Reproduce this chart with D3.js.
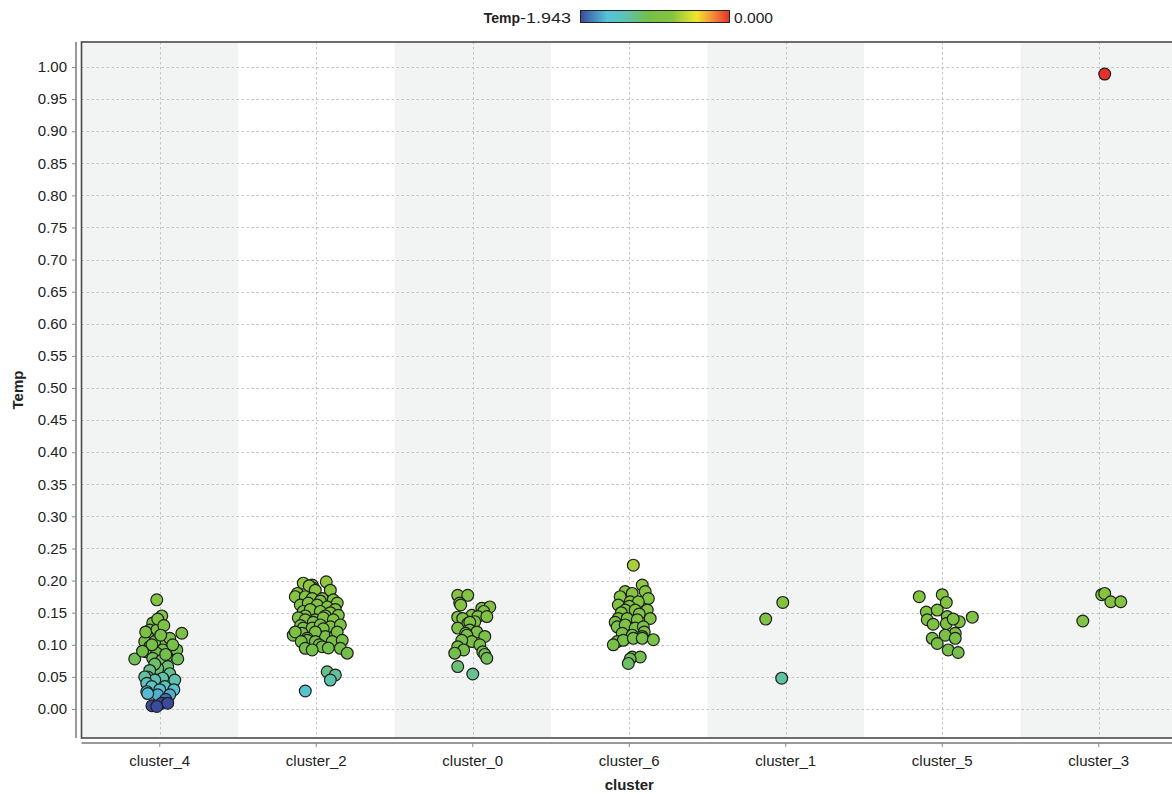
<!DOCTYPE html>
<html><head><meta charset="utf-8">
<script src="https://cdn.jsdelivr.net/npm/d3@7"></script>
<style>
html,body{margin:0;padding:0;background:#fff;overflow:hidden}
text{font-family:"Liberation Sans",Arial,sans-serif;fill:#222}
</style></head>
<body><svg id="c" width="1172" height="794"></svg>
<script>
// ---- data ----
const categories = ["cluster_4","cluster_2","cluster_0","cluster_6","cluster_1","cluster_5","cluster_3"];
const yTicks = [0,0.05,0.1,0.15,0.2,0.25,0.3,0.35,0.4,0.45,0.5,0.55,0.6,0.65,0.7,0.75,0.8,0.85,0.9,0.95,1.0];
const colorMin = -1.943, colorMax = 0.0;   // legend range (log10 of Temp)
// points per cluster: [jitter (% of band), Temp]
const cluster_4 = [[-1.9,.170],[1.3,.145],[-4.5,.134],[14.1,.118],[-6.4,.123],[-1.9,.123],[-7.7,.113],[3.2,.107],[-3.2,.105],[-9.6,.105],
 [-6.4,.097],[7.7,.0945],[1.9,.092],[-8.3,.089],[-1.9,.087],[10.9,.092],[4.5,.081],[-4.5,.079],[-16,.078],[11.5,.078],[1.3,.076],
 [-1.3,.14],[2.6,.13],[-9,.12],[6.4,.11],[-5,.10],[0.6,.115],[8.3,.10],[-11,.09],[3.8,.085],
 [5.1,.066],[-1.3,.063],[-3.2,.07],[6.4,.055],[-6.4,.06],[-7.7,.050],[9.6,.045],[1.9,.048],[-3.2,.045],[-9.6,.05],[-8.3,.040],
 [-5.1,.035],[3.2,.035],[0,.03],[9,.03],[-8.3,.027],[6.4,.022],[-1.3,.022],[-7.7,.024],[3.8,.015],[1.3,.009],[5.1,.009],[-5,.005],[-1.9,.004]];
const cluster_2 = [[-8.3,.196],[-2.6,.193],[6.4,.198],[-1.9,.188],[-4.5,.192],[-12,.18],[-0.6,.185],[9,.185],[-13.4,.175],[-7,.175],
 [-2.6,.172],[3.8,.172],[10.9,.17],[2.6,.168],[-10.2,.162],[-5.1,.165],[13.4,.165],[0.6,.162],[7,.159],[-8.3,.152],[-3.8,.150],
 [-3.8,.155],[12.2,.155],[2.6,.152],[9,.150],[14.1,.146],[-7,.145],[5.8,.145],[-11.5,.142],[-7,.139],[-0.6,.139],[4.5,.142],[10.9,.139],
 [-1.9,.135],[-10,.13],[-8.3,.126],[-2.6,.126],[2.6,.131],[9,.128],[15.4,.131],[4.5,.125],[-14.7,.115],[-9,.118],[0.6,.115],[5.8,.113],
 [12.2,.115],[-0.6,.12],[13.4,.12],[-13.4,.12],[-5.8,.11],[-5.8,.107],[-0.6,.105],[10.2,.105],[16.6,.107],[-9.6,.105],[1.9,.10],
 [-7,.0945],[3.8,.097],[-2.6,.092],[15.4,.0945],[7.7,.095],[19.8,.087],[7,.058],[12.2,.053],[9,.045],[-7,.028]];
const cluster_0 = [[-9.6,.177],[-3.2,.177],[-8.3,.165],[-7.7,.162],[5.8,.157],[10.9,.159],[7,.152],[-0.6,.146],[-9.6,.143],[-6.4,.141],
 [3.2,.144],[9,.144],[-3.2,.133],[1.3,.136],[-1.9,.135],[-9.6,.126],[-1.9,.123],[2.6,.120],[-4.5,.118],[-3.8,.115],[7.7,.113],
 [-0.6,.105],[-7,.107],[4.5,.100],[-9.6,.097],[-5.8,.092],[6.4,.089],[-11.5,.087],[7.7,.085],[9,.079],[-9.6,.066],[0,.0545]];
const cluster_6 = [[2.6,.224],[8.3,.193],[-2.6,.183],[-5.8,.175],[1.9,.180],[10.2,.183],[12.2,.172],[0.6,.167],[5.8,.167],[-7,.162],
 [0,.16],[-2.6,.154],[3.8,.154],[11.5,.154],[-5.1,.15],[6.4,.148],[-7,.141],[-1.3,.141],[5.1,.139],[13.4,.141],[-9,.135],[-7.7,.128],
 [-2.6,.131],[3.8,.126],[9,.128],[9.6,.12],[-4.5,.118],[1.9,.115],[8.3,.113],[-7.7,.105],[-3.8,.107],[2.6,.110],[8.3,.110],[15.4,.108],
 [-10.2,.100],[1.9,.081],[7,.081],[0.6,.078],[-0.6,.071]];
const cluster_1 = [[-1.9,.166],[-12.8,.140],[-2.6,.048]];
const cluster_5 = [[-14.7,.175],[0,.178],[2.6,.166],[-10.2,.151],[-3.2,.154],[3.2,.144],[19.2,.143],[-9.6,.139],[-5.8,.132],[2.6,.133],
 [10.9,.136],[7,.140],[8.3,.118],[-6.4,.110],[1.9,.115],[8.3,.110],[-3.2,.102],[3.8,.092],[10.2,.088]];
const cluster_3 = [[1.9,.178],[3.8,.180],[7.7,.167],[14.1,.167],[-10.2,.137],[3.8,.989]];
const seriesByCluster = {cluster_4, cluster_2, cluster_0, cluster_6, cluster_1, cluster_5, cluster_3};

// ---- layout ----
const svg = d3.select("#c");
const L = 81.5, R = 1177, T = 42, B = 738;
const x = d3.scaleBand().domain(categories).range([L, R]).padding(0);
const y = d3.scaleLinear().domain([-0.0452, 1.0389]).range([B, T]);

const stops = [0, 0.18, 0.3, 0.45, 0.62, 0.69, 0.78, 0.88, 1];
const stopColors = ["#3a4b9f","#55c4d8","#5dc2b4","#74bf4a","#86c440","#b9d536","#f1e52a","#f5923a","#e6302b"];
const cmap = d3.scaleLinear().domain(stops).range(stopColors).clamp(true);
const norm = d3.scaleLinear().domain([colorMin, colorMax]).range([0,1]).clamp(true);
const colorOf = v => cmap(norm(Math.log10(Math.max(v, 1e-6))));
const fmt = v => d3.format(".3f")(v).replace("\u2212", "-");

// bands
svg.append("g").selectAll("rect").data(categories).join("rect")
  .attr("x", d => x(d)).attr("y", T).attr("width", x.bandwidth()).attr("height", B - T)
  .attr("fill", (d,i) => i % 2 === 0 ? "#f2f3f3" : "#ffffff");

// grid
const grid = svg.append("g").attr("stroke", "#c4c4c4").attr("stroke-width", 1).attr("stroke-dasharray", "2.5,2.5");
grid.selectAll("line.h").data(yTicks).join("line")
  .attr("x1", L).attr("x2", R).attr("y1", d => Math.round(y(d)) + 0.5).attr("y2", d => Math.round(y(d)) + 0.5);
grid.selectAll("line.v").data(categories).join("line")
  .attr("x1", d => Math.round(x(d) + x.bandwidth()/2) + 0.5).attr("x2", d => Math.round(x(d) + x.bandwidth()/2) + 0.5)
  .attr("y1", T).attr("y2", B);

// plot border
svg.append("rect").attr("x", L).attr("y", T).attr("width", R - L).attr("height", B - T)
  .attr("fill", "none").attr("stroke", "#4a4a4a").attr("stroke-width", 1.6);

// points
const pts = [];
categories.forEach(c => seriesByCluster[c].forEach(p => pts.push({c, j: p[0], v: p[1]})));
svg.append("g").selectAll("circle").data(pts).join("circle")
  .attr("cx", d => x(d.c) + x.bandwidth()/2 + d.j/100 * x.bandwidth())
  .attr("cy", d => y(d.v))
  .attr("r", 5.9)
  .attr("fill", d => colorOf(d.v))
  .attr("stroke", "#1e1e1e").attr("stroke-width", 1.2);

// y axis
const yAxis = svg.append("g").attr("transform", "translate(76,0)")
  .call(d3.axisLeft(y).tickValues(yTicks).tickFormat(d3.format(".2f")).tickSize(4).tickPadding(5));
yAxis.select(".domain").attr("stroke", "#9a9a9a").attr("stroke-width", 2).attr("d", `M0,${T}V${B}`);
yAxis.selectAll(".tick line").attr("stroke", "#888");
yAxis.selectAll(".tick text").attr("font-size", "15px").attr("fill", "#222").attr("font-family", "Liberation Sans, Arial, sans-serif");

// x axis
const xAxis = svg.append("g").attr("transform", "translate(0,743)")
  .call(d3.axisBottom(x).tickSize(4).tickPadding(8));
xAxis.select(".domain").attr("stroke", "#9a9a9a").attr("stroke-width", 2).attr("d", `M${L},0H${R}`);
xAxis.selectAll(".tick line").attr("stroke", "#888");
xAxis.selectAll(".tick text").attr("font-size", "15px").attr("fill", "#222").attr("font-family", "Liberation Sans, Arial, sans-serif");

// axis titles
svg.append("text").attr("x", (L + R)/2).attr("y", 790).attr("text-anchor", "middle")
  .attr("font-size", "15px").attr("font-weight", "bold").text("cluster");
svg.append("text").attr("transform", `translate(23,${(T + B)/2}) rotate(-90)`).attr("text-anchor", "middle")
  .attr("font-size", "15px").attr("font-weight", "bold").text("Temp");

// legend
const lg = svg.append("g");
const defs = svg.append("defs");
const grad = defs.append("linearGradient").attr("id", "cg").attr("x1", "0%").attr("x2", "100%");
stops.forEach((s,i) => grad.append("stop").attr("offset", (s*100) + "%").attr("stop-color", stopColors[i]));
lg.append("text").attr("x", 520).attr("y", 23).attr("text-anchor", "end").attr("font-size", "14px").attr("font-weight", "bold").text("Temp");
lg.append("text").attr("x", 520).attr("y", 23).attr("font-size", "15px")
  .attr("textLength", 51).attr("lengthAdjust", "spacingAndGlyphs").text(fmt(colorMin));
lg.append("rect").attr("x", 580.5).attr("y", 10.5).attr("width", 149).attr("height", 12)
  .attr("fill", "url(#cg)").attr("stroke", "#222").attr("stroke-width", 1);
lg.append("text").attr("x", 734).attr("y", 23).attr("font-size", "15px")
  .attr("textLength", 39).attr("lengthAdjust", "spacingAndGlyphs").text(fmt(colorMax));
</script></body></html>
